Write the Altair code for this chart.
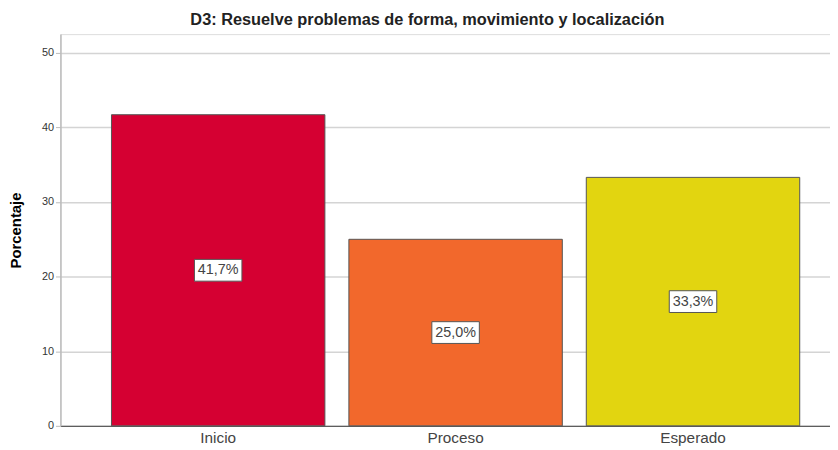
import altair as alt
import pandas as pd

categories = ["Inicio", "Proceso", "Esperado"]
values = [41.7, 25.0, 33.3]
labels = ["41,7%", "25,0%", "33,3%"]
colors = ["#d50032", "#f2682c", "#e2d510"]

df = pd.DataFrame({"cat": categories, "val": values, "lab": labels})
df["half"] = df["val"] / 2

FONT = "Liberation Sans"

x = alt.X("cat:N", sort=categories, title=None,
          scale=alt.Scale(range=[0, 799], paddingInner=0.101, paddingOuter=0.215),
          axis=alt.Axis(labelAngle=0, ticks=False, labelFontSize=15.5, labelColor="#444444",
                        labelFont=FONT, labelPadding=5, domainColor="#444444", domainWidth=1))

bars = alt.Chart(df).mark_bar(stroke="#555555", strokeWidth=1).encode(
    x=x,
    y=alt.Y("val:Q", title="Porcentaje",
            scale=alt.Scale(domain=[0, 52.5], nice=False),
            axis=alt.Axis(values=[0, 10, 20, 30, 40, 50], labelFontSize=11, labelColor="#333333",
                          labelFont=FONT, titleFont=FONT, titleFontSize=15, titleFontWeight="bold",
                          titleColor="#000000", titlePadding=18, tickSize=5, tickColor="#bbbbbb",
                          domainColor="#bbbbbb", domainWidth=1.5, gridColor="#d4d4d4", gridWidth=1.5)),
    color=alt.Color("cat:N", scale=alt.Scale(domain=categories, range=colors), legend=None),
)

boxes = alt.Chart(df).mark_point(
    shape="M-1,-0.4583H1V0.4583H-1Z", size=2304, filled=True, fill="white",
    stroke="#555555", strokeWidth=1, opacity=1
).encode(x=alt.X("cat:N", sort=categories), y="half:Q")

texts = alt.Chart(df).mark_text(font=FONT, fontSize=14.5, color="#444444").encode(
    x=alt.X("cat:N", sort=categories), y="half:Q", text="lab:N")

chart = (bars + boxes + texts).properties(
    width=778, height=396,
    title=alt.TitleParams("D3: Resuelve problemas de forma, movimiento y localización",
                          font=FONT, fontSize=16.5, fontWeight="bold", color="#222222",
                          offset=6, dx=-18),
    autosize=alt.AutoSizeParams(type="none"),
    padding={"left": 53, "top": 24, "right": 0, "bottom": 20},
).configure_view(stroke=None).configure(background="white")

chart.save("out.html", embed_options={"renderer": "svg", "actions": False})
